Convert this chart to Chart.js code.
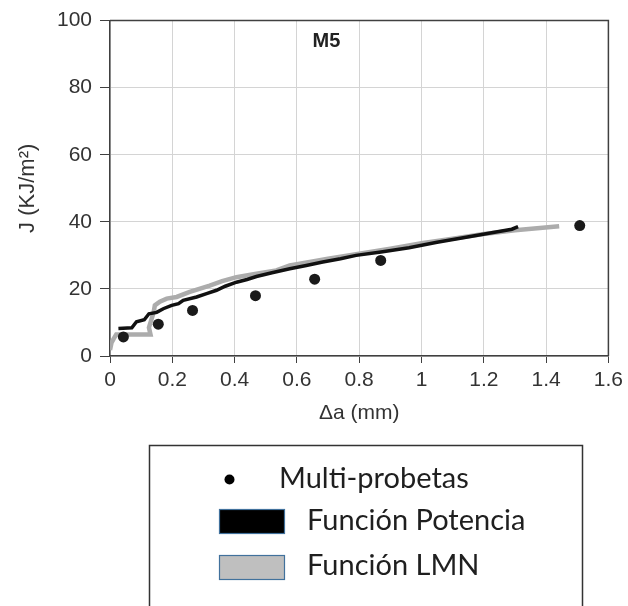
<!DOCTYPE html>
<html>
<head>
<meta charset="utf-8">
<script src="https://cdn.jsdelivr.net/npm/chart.js@4"></script>
<style>
  html, body { margin: 0; padding: 0; background: #fff; }
  #wrap { width: 628px; height: 606px; position: relative; }
</style>
</head>
<body>
<div id="wrap"><canvas id="chart" width="628" height="606"></canvas></div>
<script>
// Multi-probetas points (Δa mm, J kJ/m2)
const multiX = [0.043, 0.155, 0.265, 0.467, 0.657, 0.869, 1.508];
const multiY = [5.7, 9.5, 13.6, 18.0, 22.9, 28.5, 38.9];

// Función Potencia curve
const potX = [0.027, 0.07, 0.085, 0.11, 0.125, 0.15, 0.171, 0.198, 0.22, 0.235, 0.278, 0.31, 0.342, 0.37, 0.406,
              0.44, 0.47, 0.52, 0.577, 0.63, 0.683, 0.74, 0.79, 0.87, 0.96, 1.05, 1.143, 1.23, 1.29, 1.31];
const potY = [8.2, 8.4, 10.2, 10.8, 12.6, 13.0, 14.1, 15.1, 15.6, 16.6, 17.6, 18.6, 19.6, 20.8, 22.0,
              22.8, 23.7, 24.8, 26.0, 27.0, 28.0, 29.0, 30.0, 31.0, 32.3, 33.9, 35.4, 36.8, 37.8, 38.6];

// Función LMN curve
const lmnX = [0.0, 0.005, 0.012, 0.02, 0.13, 0.125, 0.14, 0.144, 0.16, 0.182, 0.214, 0.256, 0.32, 0.36, 0.406,
              0.47, 0.534, 0.577, 0.609, 0.7, 0.8, 0.9, 1.0, 1.1, 1.2, 1.3, 1.442];
const lmnY = [1.8, 4.0, 5.2, 6.4, 6.4, 8.5, 13.0, 15.1, 16.2, 17.1, 17.6, 19.1, 21.0, 22.3, 23.5,
              24.5, 25.5, 27.0, 27.5, 29.0, 30.5, 32.0, 33.6, 35.0, 36.4, 37.5, 38.7];

const xTicks = [0, 0.2, 0.4, 0.6, 0.8, 1, 1.2, 1.4, 1.6];
const yTicks = [0, 20, 40, 60, 80, 100];

const legendLabels = ['Multi-probetas', 'Función Potencia', 'Función LMN'];
const panelLabel = 'M5';

const toPts = (xs, ys) => xs.map((x, i) => ({ x: x, y: ys[i] }));

const axisColor = '#404040';
const gridColor = '#d4d4d4';
const tickFont = { family: 'Liberation Sans, Arial, sans-serif', size: 21 };

// frame + panel label + legend box drawn on canvas
const extras = {
    id: 'extras',
    afterDatasetsDraw(chart) {
        const { ctx, chartArea: a, scales } = chart;
        ctx.save();
        ctx.strokeStyle = axisColor;
        ctx.lineWidth = 1.5;
        ctx.beginPath();
        ctx.moveTo(a.left, a.top);
        ctx.lineTo(a.right, a.top);
        ctx.lineTo(a.right, a.bottom);
        ctx.stroke();

        ctx.fillStyle = '#222';
        ctx.font = 'bold 20px Liberation Sans, Arial, sans-serif';
        ctx.textAlign = 'center';
        ctx.textBaseline = 'middle';
        ctx.fillText(panelLabel, scales.x.getPixelForValue(0.695), scales.y.getPixelForValue(93.8));
        ctx.restore();
    },
    afterDraw(chart) {
        const ctx = chart.ctx;
        ctx.save();
        ctx.strokeStyle = '#333';
        ctx.lineWidth = 1.5;
        ctx.beginPath();
        ctx.moveTo(149.5, 620);
        ctx.lineTo(149.5, 445.5);
        ctx.lineTo(582.5, 445.5);
        ctx.lineTo(582.5, 620);
        ctx.stroke();

        ctx.font = '29px Lato, "Noto Sans", sans-serif';
        ctx.textBaseline = 'middle';
        ctx.textAlign = 'left';

        ctx.beginPath();
        ctx.arc(229.5, 479.5, 5, 0, Math.PI * 2);
        ctx.fillStyle = '#000';
        ctx.fill();
        ctx.fillStyle = '#1f1f1f';
        ctx.fillText(legendLabels[0], 279, 479);

        ctx.strokeStyle = '#41719c';
        ctx.lineWidth = 1.2;
        ctx.fillStyle = '#000';
        ctx.fillRect(219.5, 509.5, 65, 24);
        ctx.strokeRect(219.5, 509.5, 65, 24);
        ctx.fillStyle = '#1f1f1f';
        ctx.fillText(legendLabels[1], 307, 521);

        ctx.fillStyle = '#bfbfbf';
        ctx.fillRect(219.5, 555.5, 65, 24);
        ctx.strokeRect(219.5, 555.5, 65, 24);
        ctx.fillStyle = '#1f1f1f';
        ctx.fillText(legendLabels[2], 307, 566);
        ctx.restore();
    }
};

new Chart(document.getElementById('chart'), {
    type: 'scatter',
    data: {
        datasets: [
            {
                label: legendLabels[0],
                data: toPts(multiX, multiY),
                pointRadius: 5.5,
                pointBackgroundColor: '#1a1a1a',
                pointBorderWidth: 0,
                showLine: false,
                order: 0
            },
            {
                label: legendLabels[1],
                data: toPts(potX, potY),
                showLine: true,
                borderColor: '#111',
                borderWidth: 3.5,
                pointRadius: 0,
                tension: 0,
                order: 1
            },
            {
                label: legendLabels[2],
                data: toPts(lmnX, lmnY),
                showLine: true,
                borderColor: '#acacac',
                borderWidth: 4.5,
                pointRadius: 0,
                tension: 0,
                order: 2
            }
        ]
    },
    options: {
        responsive: false,
        animation: false,
        devicePixelRatio: 1,
        layout: { padding: { top: 19, right: 19, left: 0, bottom: 180 } },
        plugins: { legend: { display: false }, tooltip: { enabled: false } },
        scales: {
            x: {
                type: 'linear',
                min: 0, max: 1.6,
                afterBuildTicks: (s) => { s.ticks = xTicks.map(v => ({ value: v })); },
                afterFit: (s) => { s.height = 70; },
                grid: { color: gridColor, tickColor: axisColor, tickLength: 7, drawOnChartArea: true },
                border: { color: axisColor, width: 1.5 },
                ticks: { color: '#333', font: tickFont, padding: 5, maxRotation: 0, callback: (v) => String(v) },
                title: { display: true, text: 'Δa (mm)', color: '#333', font: tickFont, padding: 0 }
            },
            y: {
                type: 'linear',
                min: 0, max: 100,
                afterBuildTicks: (s) => { s.ticks = yTicks.map(v => ({ value: v })); },
                afterFit: (s) => { s.width = 110; },
                grid: { color: gridColor, tickColor: axisColor, tickLength: 10 },
                border: { color: axisColor, width: 1.5 },
                ticks: { color: '#333', font: tickFont, padding: 8, callback: (v) => String(v) },
                title: { display: true, text: 'J (KJ/m²)', color: '#333', font: { family: tickFont.family, size: 22 }, padding: { top: 15 } }
            }
        }
    },
    plugins: [extras]
});
</script>
</body>
</html>
